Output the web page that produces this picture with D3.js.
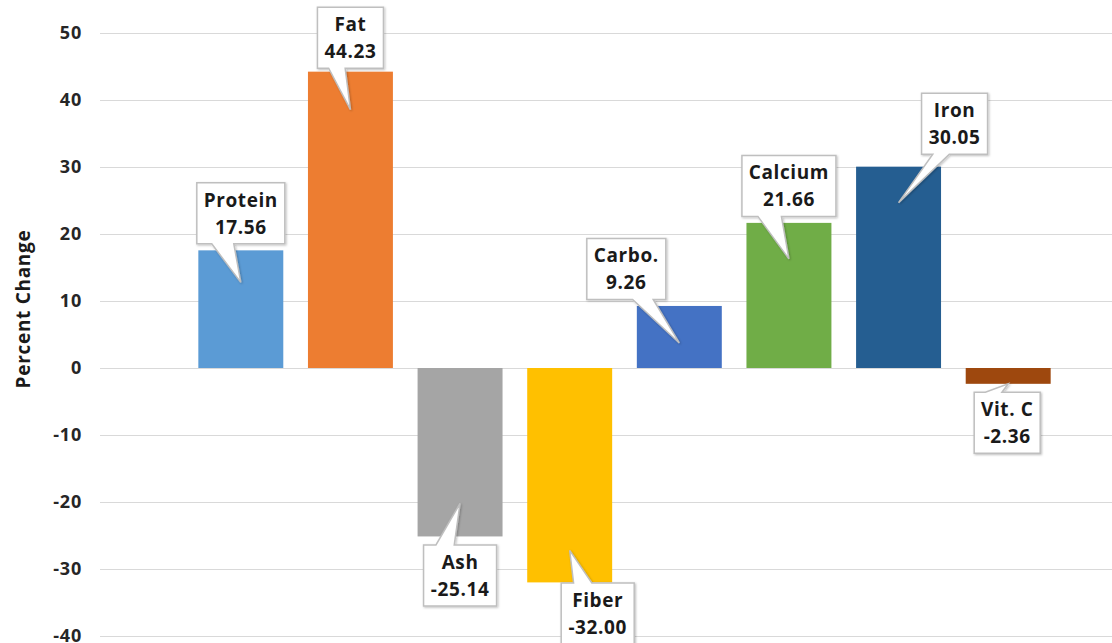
<!DOCTYPE html>
<html>
<head>
<meta charset="utf-8">
<script src="https://cdn.jsdelivr.net/npm/d3@7"></script>
<style>
  html, body { margin: 0; padding: 0; background: #fff; }
  svg { display: block; }
</style>
</head>
<body>
<svg id="chart" width="1112" height="643"></svg>
<script>
// ---- data ----
const categories = ["Protein", "Fat", "Ash", "Fiber", "Carbo.", "Calcium", "Iron", "Vit. C"];
const values = [17.56, 44.23, -25.14, -32.00, 9.26, 21.66, 30.05, -2.36];
const colors = ["#5b9bd5", "#ed7d31", "#a5a5a5", "#ffc000", "#4472c4", "#70ad47", "#255e91", "#9e480e"];
const yTicks = [50, 40, 30, 20, 10, 0, -10, -20, -30, -40];
const yTitle = "Percent Change";
// callout layout (pixel offsets of box centre from bar centre / bar end, tip depth into bar)
const calloutDx = [0, 0, 0, 28, -53, 0, 56, -1];
const calloutDy = [-37, -34, 39, 31, -37, -37, -43, 39];
const tipDepth = [32, 38, 33, 32, 37, 36, 36, 0];

const svg = d3.select("#chart");
const font = "'Open Sans', 'DejaVu Sans', sans-serif";
const hy = s => s.replace(/\u2212/g, "-");

const y = d3.scaleLinear().domain([-40, 50]).range([636, 33]);
const x = d3.scaleBand().domain(categories).range([186, 1063]).paddingInner(0.225).paddingOuter(0.1125);

// gridlines
svg.append("g").selectAll("line").data(yTicks).join("line")
  .attr("x1", 100).attr("x2", 1112)
  .attr("y1", d => Math.round(y(d)) + 0.5).attr("y2", d => Math.round(y(d)) + 0.5)
  .attr("stroke", "#d9d9d9").attr("stroke-width", 1);

// y axis labels
const yAxis = d3.axisLeft(y).tickValues(yTicks).tickSize(0).tickPadding(0).tickFormat(d => hy(d3.format("d")(d)));
const gy = svg.append("g").attr("transform", "translate(82,0)").call(yAxis);
gy.select(".domain").remove();
gy.selectAll("text")
  .attr("font-family", font).attr("font-size", 18).attr("font-weight", "bold").attr("fill", "#262626")
  .attr("letter-spacing", 0.8);

// y title
svg.append("text")
  .attr("transform", "translate(30,309) rotate(-90)")
  .attr("text-anchor", "middle")
  .attr("font-family", font).attr("font-size", 19).attr("font-weight", "bold").attr("fill", "#1a1a1a")
  .attr("letter-spacing", 0.7)
  .text(yTitle);

// bars
svg.append("g").selectAll("rect").data(values).join("rect")
  .attr("x", (d, i) => x(categories[i]))
  .attr("width", x.bandwidth())
  .attr("y", d => y(Math.max(0, d)))
  .attr("height", d => Math.abs(y(d) - y(0)))
  .attr("fill", (d, i) => colors[i]);

// shadow filter
const defs = svg.append("defs");
const f = defs.append("filter").attr("id", "sh").attr("x", "-20%").attr("y", "-20%").attr("width", "140%").attr("height", "140%");
f.append("feDropShadow").attr("dx", 1).attr("dy", 1).attr("stdDeviation", 1.2).attr("flood-color", "#000").attr("flood-opacity", 0.25);

// callouts
const cg = svg.append("g");
values.forEach((v, i) => {
  const cx = x(categories[i]) + x.bandwidth() / 2;
  const yEnd = y(v);
  const up = v >= 0;
  const bx = cx + calloutDx[i];
  const by = yEnd + calloutDy[i];
  const tipX = cx;
  const tipY = yEnd + (up ? tipDepth[i] : -tipDepth[i]);

  const g = cg.append("g");
  const t = g.append("text")
    .attr("font-family", font).attr("font-size", 19).attr("font-weight", "bold").attr("fill", "#1a1a1a")
    .attr("letter-spacing", 0.6)
    .attr("text-anchor", "middle");
  t.append("tspan").attr("x", bx).attr("y", by - 13.5).attr("dy", "0.36em").text(categories[i]);
  t.append("tspan").attr("x", bx).attr("y", by + 13.5).attr("dy", "0.36em").text(hy(d3.format(".2f")(v)));
  const bb = t.node().getBBox();
  const w = Math.round(bb.width + 14), h = 61;
  const L = bx - w / 2, R = bx + w / 2, T = by - h / 2, B = by + h / 2;
  const mirror = tipX > bx + w * 0.3;
  const a = mirror ? L + w * 0.58 : L + w * 0.17;
  const b = mirror ? L + w * 0.84 : L + w * 0.42;
  let pts;
  if (up) {
    pts = [[L, T], [R, T], [R, B], [b, B], [tipX, tipY], [a, B], [L, B]];
  } else {
    pts = [[L, T], [a, T], [tipX, tipY], [b, T], [R, T], [R, B], [L, B]];
  }
  g.insert("path", "text")
    .attr("d", "M" + pts.map(p => p.join(",")).join("L") + "Z")
    .attr("fill", "#fff").attr("stroke", "#bfbfbf").attr("stroke-width", 1.5)
    .attr("stroke-linejoin", "miter")
    .attr("filter", "url(#sh)");
});
</script>
</body>
</html>
